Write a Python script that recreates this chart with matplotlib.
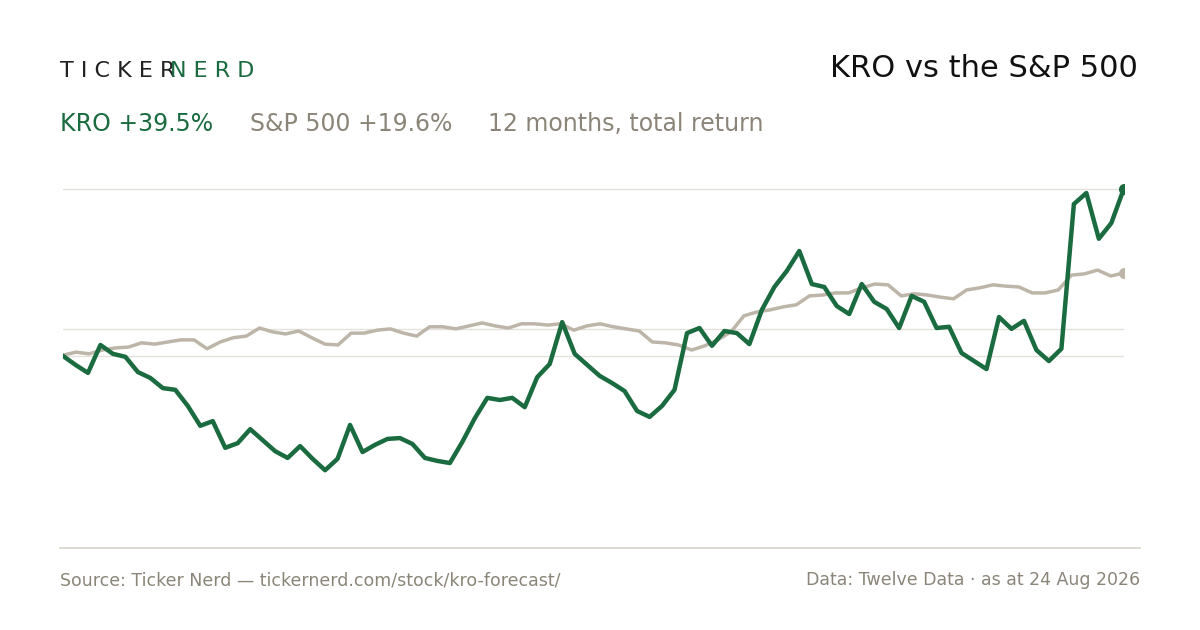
import numpy as np
import matplotlib
matplotlib.use("Agg")
import matplotlib.pyplot as plt
from matplotlib.lines import Line2D

# 12 months total return, %
kro = [0, -2.1, -4.0, 2.6, 0.5, -0.2, -3.8, -5.2, -7.6, -8.0, -11.8, -16.5, -15.4, -21.7, -20.6,
       -17.3, -19.9, -22.5, -24.1, -21.3, -24.3, -27.0, -24.3, -16.3, -22.7, -21.0, -19.6, -19.4,
       -20.8, -24.1, -24.8, -25.3, -20.3, -14.7, -9.9, -10.4, -9.9, -12.1, -5.0, -1.9, 8.0, 0.5,
       -2.1, -4.7, -6.4, -8.3, -13.0, -14.4, -11.8, -8.0, 5.4, 6.6, 2.4, 5.9, 5.4, 2.8, 10.9, 16.3,
       20.1, 24.8, 17.0, 16.3, 11.8, 9.9, 17.0, 12.8, 11.1, 6.6, 14.2, 12.8, 6.6, 6.9, 0.7, -1.2,
       -3.1, 9.2, 6.4, 8.3, 1.4, -1.2, 1.7, 35.9, 38.5, 27.7, 31.4, 39.5]
spx = [0.2, 0.9, 0.5, 1.4, 1.9, 2.1, 3.1, 2.8, 3.3, 3.8, 3.8, 1.7, 3.3, 4.3, 4.7, 6.6, 5.7, 5.2,
       5.9, 4.3, 2.8, 2.6, 5.4, 5.4, 6.1, 6.4, 5.4, 4.7, 6.9, 6.9, 6.4, 7.1, 7.8, 7.1, 6.6, 7.6,
       7.6, 7.3, 7.6, 6.1, 7.1, 7.6, 6.9, 6.4, 5.9, 3.3, 3.1, 2.6, 1.4, 2.4, 3.8, 5.7, 9.5, 10.4,
       10.9, 11.6, 12.1, 14.2, 14.4, 14.9, 14.9, 16.1, 17.0, 16.8, 14.2, 14.7, 14.4, 13.9, 13.5,
       15.6, 16.1, 16.8, 16.5, 16.3, 14.9, 14.9, 15.6, 19.1, 19.4, 20.3, 18.9, 19.6]
gridlines = [0, 6.4, 39.5]

green = "#1a6b3f"
grey = "#bdb5a8"
txt = "#8a8578"

fig = plt.figure(figsize=(12, 6.3), dpi=100)
ax = fig.add_axes([0.0525, 0.130, 0.884, 0.616])
for g in gridlines:
    ax.axhline(g, color="#e4e1dc", lw=1, zorder=0)
xs = np.linspace(0, 1, len(spx))
xk = np.linspace(0, 1, len(kro))
ax.plot(xs, spx, color=grey, lw=2.5)
ax.plot(xk, kro, color=green, lw=3.2)
ax.plot(xs[-1], spx[-1], "o", color=grey, ms=7)
ax.plot(xk[-1], kro[-1], "o", color=green, ms=7)
ax.set_xlim(0, 1)
ax.set_ylim(-45.4, 46.3)
ax.axis("off")

fig.add_artist(Line2D([0.05, 0.95], [0.130, 0.130], color="#d8d4cc", lw=1.2))

fig.text(0.05, 0.888, "T I C K E R", fontsize=16, color="#222222", va="center")
fig.text(0.142, 0.888, "N E R D", fontsize=16, color=green, va="center")
fig.text(0.948, 0.892, "KRO vs the S&P 500", fontsize=22, color="#111111", ha="right", va="center")
fig.text(0.05, 0.803, "KRO +39.5%", fontsize=17, color=green, va="center")
fig.text(0.208, 0.803, "S&P 500 +19.6%", fontsize=17, color=txt, va="center")
fig.text(0.407, 0.803, "12 months, total return", fontsize=17, color=txt, va="center")
fig.text(0.05, 0.079, "Source: Ticker Nerd \u2014 tickernerd.com/stock/kro-forecast/", fontsize=12.5, color=txt, va="center")
fig.text(0.95, 0.079, "Data: Twelve Data \u00b7 as at 24 Aug 2026", fontsize=12.5, color=txt, ha="right", va="center")

fig.savefig("out.png", facecolor="white")
